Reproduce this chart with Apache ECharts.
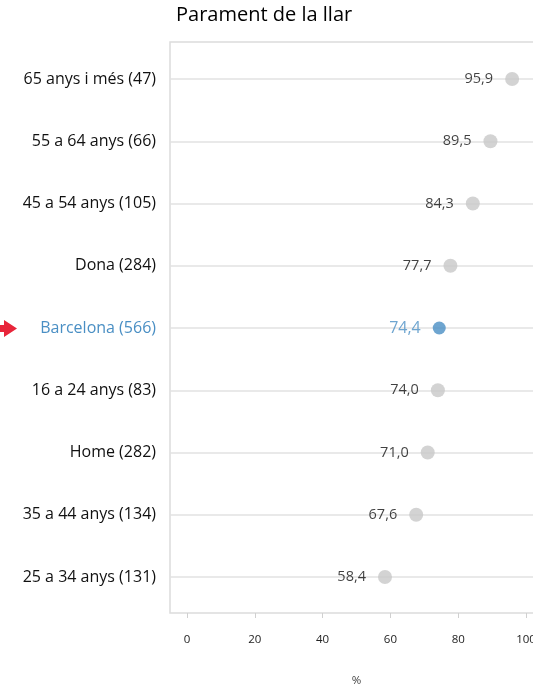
<!DOCTYPE html>
<html>
<head>
<meta charset="utf-8">
<title>Parament de la llar</title>
<script src="https://cdn.jsdelivr.net/npm/echarts@6/dist/echarts.min.js"></script>
<style>
    html, body { margin: 0; padding: 0; background: #fff; }
    #myChart { width: 533px; height: 685px; }
</style>
</head>
<body>
<div id="myChart"></div>
<script>
    // dades
    var categories = ['65 anys i més (47)', '55 a 64 anys (66)', '45 a 54 anys (105)', 'Dona (284)',
        'Barcelona (566)', '16 a 24 anys (83)', 'Home (282)', '35 a 44 anys (134)', '25 a 34 anys (131)'];
    var values = [95.9, 89.5, 84.3, 77.7, 74.4, 74.0, 71.0, 67.6, 58.4];
    var highlight = 'Barcelona (566)';
    var xTicks = [0, 20, 40, 60, 80, 100];
    var xName = '%';
    var titleText = 'Parament de la llar';

    var grey = '#c8c8c8';
    var blue = '#4a8fc4';
    var font = 'Open Sans';

    function fmt(v) {
        return v.toFixed(1).replace('.', ',');
    }

    var points = [];
    categories.forEach(function (c, i) {
        var hl = c === highlight;
        points.push({
            value: [values[i], c],
            symbolSize: hl ? 13 : 14,
            itemStyle: { color: hl ? blue : grey },
            label: {
                color: hl ? blue : '#111',
                fontSize: hl ? 16 : 14.5
            }
        });
    });

    var myChart = echarts.init(document.getElementById('myChart'));
    myChart.setOption({
        animation: false,
        textStyle: { fontFamily: font },
        title: {
            text: titleText,
            left: 176,
            top: 5,
            padding: 0,
            textStyle: { fontFamily: font, fontSize: 20, fontWeight: 'normal', color: '#000' }
        },
        grid: [
            // caixa + eix x
            { left: 170, top: 42, width: 373, bottom: 72, show: true, borderColor: '#dcdcdc', borderWidth: 1.5,
              outerBoundsMode: 'none', containLabel: false },
            // files
            { left: 170, top: 79, width: 373, height: 498, outerBoundsMode: 'none', containLabel: false }
        ],
        xAxis: [
            {
                gridIndex: 0,
                type: 'value',
                min: -5,
                max: 105,
                offset: 2,
                axisLine: { show: false },
                axisTick: { show: true, length: 5, customValues: xTicks, lineStyle: { color: '#d0d0d0' } },
                axisLabel: { customValues: xTicks, margin: 19, fontSize: 11.5, color: '#222', fontFamily: font },
                splitLine: { show: false },
                name: xName,
                nameLocation: 'middle',
                nameGap: 60,
                nameTextStyle: { fontSize: 11.5, color: '#444', fontFamily: font }
            },
            {
                gridIndex: 1,
                type: 'value',
                min: -5,
                max: 105,
                show: false
            }
        ],
        yAxis: [
            {
                gridIndex: 0,
                type: 'value',
                show: false
            },
            {
                gridIndex: 1,
                type: 'category',
                data: categories,
                inverse: true,
                boundaryGap: false,
                axisLine: { show: false },
                axisTick: { show: false },
                axisLabel: {
                    interval: 0,
                    margin: 14,
                    fontSize: 16,
                    fontFamily: font,
                    color: function (value) {
                        return value === highlight ? blue : '#111';
                    }
                },
                splitLine: { show: true, interval: 0, lineStyle: { color: '#e2e2e2', width: 1.5 } }
            }
        ],
        graphic: [
            {
                // fletxa vermella
                type: 'polygon',
                shape: { points: [[0, 325], [4, 325], [4, 320], [17, 328.5], [4, 337], [4, 332], [0, 332]] },
                style: { fill: '#e8253a' }
            }
        ],
        series: [
            {
                type: 'scatter',
                xAxisIndex: 1,
                yAxisIndex: 1,
                symbol: 'circle',
                data: points,
                label: {
                    show: true,
                    position: 'left',
                    distance: 12,
                    fontFamily: font,
                    formatter: function (p) {
                        return fmt(p.value[0]);
                    }
                }
            }
        ]
    });
</script>
</body>
</html>
